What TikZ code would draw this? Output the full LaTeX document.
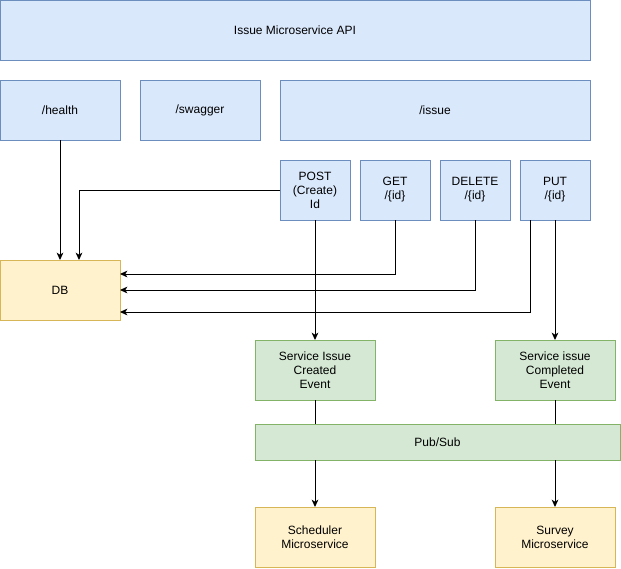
\documentclass[tikz,border=0pt]{standalone}
\usepackage{fontspec}
\setmainfont{Liberation Sans}
\usetikzlibrary{arrows.meta,positioning}
\definecolor{apifill}{HTML}{DAE8FC}
\definecolor{apiline}{HTML}{6C8EBF}
\definecolor{evtfill}{HTML}{D5E8D4}
\definecolor{evtline}{HTML}{82B366}
\definecolor{svcfill}{HTML}{FFF2CC}
\definecolor{svcline}{HTML}{D6B656}
\tikzstyle{block} = [draw,rectangle,inner sep=0pt,outer sep=0pt,align=center,line width=0.75pt,
  minimum width=90pt,minimum height=45pt,font=\fontsize{9}{10.5}\selectfont]
\tikzstyle{api} = [block,draw=apiline,fill=apifill]
\tikzstyle{verb} = [api,minimum width=52.5pt]
\tikzstyle{event} = [block,draw=evtline,fill=evtfill]
\tikzstyle{store} = [block,draw=svcline,fill=svcfill]
\tikzstyle{wire} = [line width=0.75pt]

\begin{document}
\begin{tikzpicture}[x=0.75pt,y=-0.75pt,>={Stealth[length=5.5pt,width=5pt,inset=1.5pt]},node distance=7.5pt]
  \useasboundingbox (0,0) rectangle (621,568);

  %api and routes
  \node[api,minimum width=442.5pt] (api) at (295,30) {Issue Microservice API};
  \node[api] (health) at (60,110) {/health};
  \node[api,right=15pt of health] (swagger) {/swagger};
  \node[api,right=15pt of swagger,minimum width=232.5pt] (issue) {/issue};

  %verbs
  \node[verb] (post) at (315,190) {POST\\(Create)\\Id};
  \node[verb,right=of post] (get) {GET\\/\{id\}};
  \node[verb,right=of get] (delete) {DELETE\\/\{id\}};
  \node[verb,right=of delete] (put) {PUT\\/\{id\}};

  %DB
  \node[store] (db) at (60,290) {DB};

  %events
  \node[event] (created) at (315,370) {Service Issue\\Created\\Event};
  \node[event] (completed) at (555,370) {Service issue\\Completed\\Event};
  \node[event,minimum width=273.75pt,minimum height=27pt] (pubsub) at (437.5,442) {Pub/Sub};

  %consumers
  \node[store] (scheduler) at (315,537) {Scheduler\\Microservice};
  \node[store] (survey) at (555,537) {Survey\\Microservice};

  %draw the arrows
  \draw[wire,->] (health) -- (db);
  \draw[wire,->] (post.west) -| ([xshift=14.25pt]db.north);
  \draw[wire,->] (get.south) |- ([yshift=12pt]db.east);
  \draw[wire,->] (delete.south) |- (db.east);
  \draw[wire,->] ([xshift=-18.75pt]put.south) |- ([yshift=-16.5pt]db.east);
  \draw[wire,->] (post) -- (created);
  \draw[wire,->] (put) -- (completed);

  %pub/sub
  \draw[wire] (created) -- (created |- pubsub.north);
  \draw[wire] (completed) -- (completed |- pubsub.north);
  \draw[wire,->] (pubsub.south -| scheduler) -- (scheduler);
  \draw[wire,->] (pubsub.south -| survey) -- (survey);

\end{tikzpicture}
\end{document}
